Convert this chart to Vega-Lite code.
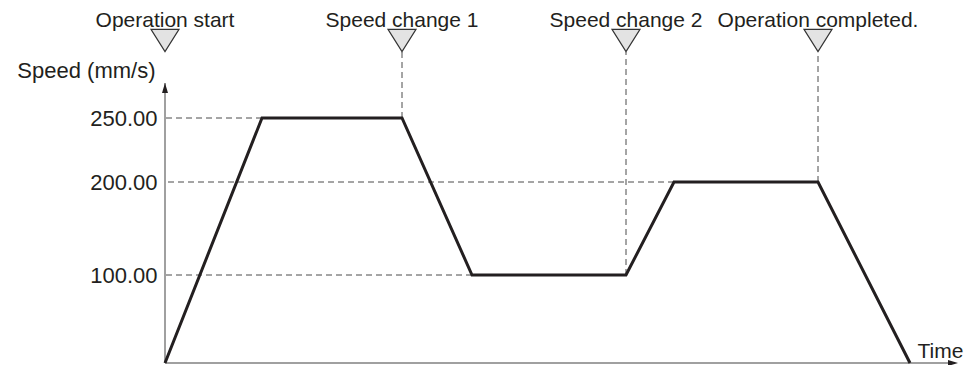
{
  "$schema": "https://vega.github.io/schema/vega-lite/v6.json",
  "width": 793,
  "height": 363,
  "autosize": "none",
  "padding": {"left": 165, "right": 9, "top": 0, "bottom": 2},
  "background": "white",
  "config": {"view": {"stroke": null}, "font": "Liberation Sans"},
  "datasets": {
    "profile": [
      {"t": 0, "speed": 0},
      {"t": 97, "speed": 250},
      {"t": 237, "speed": 250},
      {"t": 307, "speed": 100},
      {"t": 461, "speed": 100},
      {"t": 509, "speed": 200},
      {"t": 653, "speed": 200},
      {"t": 745, "speed": 0}
    ],
    "events": [
      {"event": "Operation start", "t": 0, "speed": 0},
      {"event": "Speed change 1", "t": 237, "speed": 250},
      {"event": "Speed change 2", "t": 461, "speed": 100},
      {"event": "Operation completed.", "t": 653, "speed": 200}
    ],
    "levels": [
      {"speed": 250, "t_end": 97},
      {"speed": 200, "t_end": 509},
      {"speed": 100, "t_end": 307}
    ]
  },
  "layer": [
    {
      "data": {"name": "levels"},
      "mark": {"type": "rule", "color": "#4a4a4a", "strokeWidth": 1, "strokeDash": [6, 4]},
      "encoding": {
        "x": {
          "field": "t_end",
          "type": "quantitative",
          "scale": {"domain": [0, 793], "nice": false, "zero": false},
          "axis": {"labels": false, "ticks": false, "domain": false, "grid": false, "title": "Time", "titleX": 752, "titleY": -6, "titleAlign": "left", "titleBaseline": "alphabetic", "titleFontSize": 21, "titleFontWeight": "normal", "titleFont": "Liberation Sans", "titleColor": "#231f20"}
        },
        "x2": {"datum": 0},
        "y": {
          "field": "speed",
          "type": "quantitative",
          "scale": {"domain": [0, 100, 200, 250, 350], "range": [363, 275, 182, 118, 0], "nice": false, "zero": false},
          "axis": {"values": [100, 200, 250], "format": ".2f", "domain": false, "ticks": false, "grid": false, "labelFontSize": 22, "labelFont": "Liberation Sans", "labelColor": "#231f20", "labelPadding": 8, "title": "Speed (mm/s)", "titleAngle": 0, "titleAlign": "right", "titleBaseline": "alphabetic", "titleX": -10, "titleY": 77, "titleFontSize": 22, "titleFontWeight": "normal", "titleFont": "Liberation Sans", "titleColor": "#231f20"}
        }
      }
    },
    {
      "data": {"name": "events"},
      "transform": [{"filter": "datum.speed > 0"}],
      "mark": {"type": "rule", "color": "#4a4a4a", "strokeWidth": 1, "strokeDash": [6, 4]},
      "encoding": {
        "x": {"field": "t", "type": "quantitative"},
        "y": {"field": "speed", "type": "quantitative"},
        "y2": {"datum": 306}
      }
    },
    {
      "data": {"values": [{}]},
      "mark": {"type": "rule", "color": "#808080", "strokeWidth": 1.5},
      "encoding": {
        "x": {"datum": 0, "type": "quantitative"},
        "y": {"datum": 0, "type": "quantitative"},
        "y2": {"datum": 279.7}
      }
    },
    {
      "data": {"values": [{}]},
      "mark": {"type": "rule", "color": "#808080", "strokeWidth": 1.5},
      "encoding": {
        "x": {"datum": 0, "type": "quantitative"},
        "x2": {"datum": 790},
        "y": {"datum": 0, "type": "quantitative"}
      }
    },
    {
      "data": {"values": [{}]},
      "mark": {"type": "point", "shape": "M0,-1L0.6,1L-0.6,1Z", "size": 100, "filled": true, "fill": "#231f20", "strokeWidth": 0, "opacity": 1},
      "encoding": {
        "x": {"datum": 0, "type": "quantitative"},
        "y": {"datum": 275.4, "type": "quantitative"}
      }
    },
    {
      "data": {"values": [{}]},
      "mark": {"type": "point", "shape": "M1,0L-1,0.6L-1,-0.6Z", "size": 100, "filled": true, "fill": "#231f20", "strokeWidth": 0, "opacity": 1},
      "encoding": {
        "x": {"datum": 788, "type": "quantitative"},
        "y": {"datum": 0, "type": "quantitative"}
      }
    },
    {
      "data": {"name": "profile"},
      "mark": {"type": "line", "color": "#231f20", "strokeWidth": 3, "strokeJoin": "miter"},
      "encoding": {
        "x": {"field": "t", "type": "quantitative"},
        "y": {"field": "speed", "type": "quantitative"}
      }
    },
    {
      "data": {"name": "events"},
      "mark": {"type": "point", "shape": "M-1,-0.79L1,-0.79L0,0.79Z", "size": 784, "filled": true, "fill": "#e3e3e3", "stroke": "#333333", "strokeWidth": 1.2, "opacity": 1},
      "encoding": {
        "x": {"field": "t", "type": "quantitative"},
        "y": {"datum": 315.7, "type": "quantitative"}
      }
    },
    {
      "data": {"name": "events"},
      "mark": {"type": "text", "fontSize": 21, "font": "Liberation Sans", "color": "#231f20", "align": "center", "baseline": "alphabetic"},
      "encoding": {
        "x": {"field": "t", "type": "quantitative"},
        "y": {"datum": 327, "type": "quantitative"},
        "text": {"field": "event"}
      }
    }
  ]
}
